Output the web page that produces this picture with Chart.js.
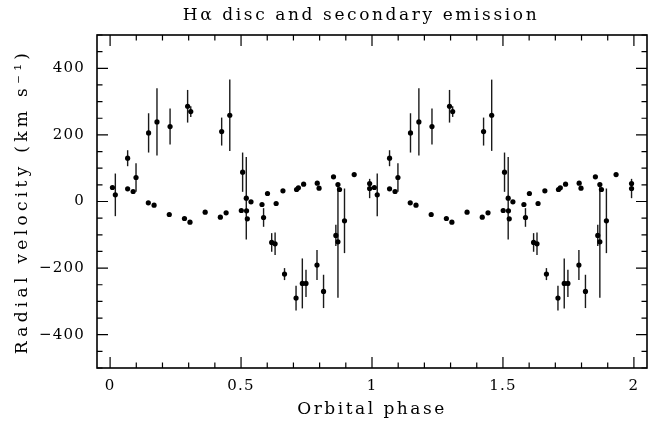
<!DOCTYPE html>
<html>
<head>
<meta charset="utf-8">
<script src="https://cdn.jsdelivr.net/npm/chart.js@4"></script>
<style>
  html, body { margin: 0; padding: 0; background: #fff; }
  #wrap { width: 648px; height: 423px; }
</style>
</head>
<body>
<div id="wrap"><canvas id="c" width="648" height="423"></canvas></div>
<script>
// ---- Data (one orbital cycle; plotted twice, at phase and phase + 1) ----
const discPhase = [0.009,0.067,0.088,0.146,0.168,0.226,0.284,0.305,0.363,0.421,0.443,0.501,0.521,0.524,0.538,0.580,0.601,0.634,0.660,0.712,0.719,0.739,0.791,0.798,0.853,0.870,0.876,0.932,0.991];
const discVel   = [42,38,30,-4,-11,-39,-51,-62,-32,-47,-34,-27,-28,-52,-1,-9,24,-6,32,36,41,52,55,40,74,51,36,81,54];

const secPhase = [0.020,0.067,0.099,0.147,0.179,0.229,0.296,0.308,0.426,0.457,0.506,0.520,0.586,0.617,0.630,0.666,0.710,0.734,0.748,0.790,0.815,0.862,0.870,0.895,0.991];
const secVel   = [20,130,72,206,239,225,286,270,210,259,88,10,-48,-123,-127,-218,-290,-246,-246,-191,-270,-102,-121,-58,39];
const secErr   = [64,24,43,59,101,54,49,16,42,107,59,124,28,28,34,18,37,75,41,45,50,32,168,97,29];

const xTickValues = [0, 0.5, 1, 1.5, 2];
const xTickLabels = ['0', '0.5', '1', '1.5', '2'];
const yTickValues = [-400, -200, 0, 200, 400];
const yTickLabels = ['\u2212400', '\u2212200', '0', '200', '400'];

const cycles = [0, 1];

function buildPoints(ph, vel, err) {
  const pts = [];
  cycles.forEach(c => ph.forEach((p, i) => {
    const o = { x: p + c, y: vel[i] };
    if (err) o.e = err[i];
    pts.push(o);
  }));
  return pts;
}

const FONT = "'DejaVu Serif', serif";
const TITLE_SPACING = '2.6px';
const TICK_SPACING = '1.2px';

function wrapScale(scale, titleSpacing) {
  if (scale._spacingWrapped) return;
  scale._spacingWrapped = true;
  const origTitle = scale.drawTitle.bind(scale);
  const origLabels = scale.drawLabels.bind(scale);
  scale.drawTitle = function () {
    const prev = scale.ctx.letterSpacing;
    scale.ctx.letterSpacing = titleSpacing;
    origTitle();
    scale.ctx.letterSpacing = prev;
  };
  scale.drawLabels = function (a) {
    const prev = scale.ctx.letterSpacing;
    scale.ctx.letterSpacing = TICK_SPACING;
    origLabels(a);
    scale.ctx.letterSpacing = prev;
  };
}

const spacing = {
  id: 'spacing',
  afterLayout(chart) {
    const t = chart.titleBlock;
    if (t) { t.right = t.right - 22; }
  },
  beforeDraw(chart) { chart.ctx.letterSpacing = TITLE_SPACING; },
  afterDraw(chart) { chart.ctx.letterSpacing = '0px'; }
};

const errorBars = {
  id: 'errorBars',
  beforeDatasetsDraw(chart) {
    const { ctx, chartArea, scales } = chart;
    ctx.save();
    ctx.beginPath();
    ctx.rect(chartArea.left, chartArea.top, chartArea.right - chartArea.left, chartArea.bottom - chartArea.top);
    ctx.clip();
    ctx.strokeStyle = '#1a1a1a';
    ctx.lineWidth = 1.4;
    chart.data.datasets.forEach(ds => {
      ds.data.forEach(pt => {
        if (pt.e === undefined) return;
        const x = scales.x.getPixelForValue(pt.x);
        ctx.beginPath();
        ctx.moveTo(x, scales.y.getPixelForValue(pt.y - pt.e));
        ctx.lineTo(x, scales.y.getPixelForValue(pt.y + pt.e));
        ctx.stroke();
      });
    });
    ctx.restore();
  }
};

const frameTicks = {
  id: 'frameTicks',
  afterDraw(chart) {
    const { ctx, chartArea: a, scales } = chart;
    ctx.save();
    ctx.strokeStyle = '#000';
    ctx.lineWidth = 1.2;
    const majL = 11, minL = 5.5;
    for (let k = 0; k <= 20; k++) {
      const v = k / 10;
      const x = scales.x.getPixelForValue(v);
      const L = (k % 5 === 0) ? majL : minL;
      ctx.beginPath();
      ctx.moveTo(x, a.bottom); ctx.lineTo(x, a.bottom - L);
      ctx.moveTo(x, a.top); ctx.lineTo(x, a.top + L);
      ctx.stroke();
    }
    for (let v = -500; v <= 500; v += 50) {
      const y = scales.y.getPixelForValue(v);
      const L = (v % 200 === 0) ? majL : minL;
      ctx.beginPath();
      ctx.moveTo(a.left, y); ctx.lineTo(a.left + L, y);
      ctx.moveTo(a.right, y); ctx.lineTo(a.right - L, y);
      ctx.stroke();
    }
    ctx.lineWidth = 1.6;
    ctx.strokeRect(a.left, a.top, a.right - a.left, a.bottom - a.top);
    ctx.restore();
  }
};

new Chart(document.getElementById('c'), {
  type: 'scatter',
  data: {
    datasets: [
      {
        label: 'Disc',
        data: buildPoints(discPhase, discVel, null),
        backgroundColor: '#000',
        borderColor: '#000',
        pointRadius: 2.6,
        pointBorderWidth: 0,
        showLine: false
      },
      {
        label: 'Secondary',
        data: buildPoints(secPhase, secVel, secErr),
        backgroundColor: '#000',
        borderColor: '#000',
        pointRadius: 2.6,
        pointBorderWidth: 0,
        showLine: false
      }
    ]
  },
  options: {
    responsive: false,
    animation: false,
    devicePixelRatio: 1,
    layout: { autoPadding: false, padding: { left: 0, right: 1, top: 0, bottom: 0 } },
    plugins: {
      legend: { display: false },
      tooltip: { enabled: false },
      title: {
        display: true,
        fullSize: false,
        text: 'H\u03B1 disc and secondary emission',
        color: '#000',
        font: { family: FONT, size: 17, weight: 'normal' },
        padding: { top: 5, bottom: 9.6 }
      }
    },
    scales: {
      x: {
        type: 'linear',
        min: -0.05,
        max: 2.05,
        grid: { display: false, drawTicks: false },
        border: { display: false },
        afterBuildTicks(scale) { scale.ticks = xTickValues.map(v => ({ value: v })); },
        afterFit(scale) {
          scale.height = 55;
          scale.paddingLeft = 0; scale.paddingRight = 0;
          wrapScale(scale, '2.5px');
        },
        ticks: {
          color: '#000',
          padding: 9,
          maxRotation: 0,
          font: { family: FONT, size: 15 },
          callback(value) { const i = xTickValues.indexOf(value); return i >= 0 ? xTickLabels[i] : ''; }
        },
        title: {
          display: true,
          text: 'Orbital phase',
          color: '#000',
          font: { family: FONT, size: 17 },
          padding: { top: 0, bottom: 3 }
        }
      },
      y: {
        type: 'linear',
        min: -500,
        max: 500,
        grid: { display: false, drawTicks: false },
        border: { display: false },
        afterBuildTicks(scale) { scale.ticks = yTickValues.map(v => ({ value: v })); },
        afterFit(scale) {
          scale.width = 97;
          scale.paddingTop = 0; scale.paddingBottom = 0;
          wrapScale(scale, '4.3px');
        },
        ticks: {
          color: '#000',
          padding: 12,
          font: { family: FONT, size: 15 },
          callback(value) { const i = yTickValues.indexOf(value); return i >= 0 ? yTickLabels[i] : ''; }
        },
        title: {
          display: true,
          text: 'Radial velocity (km s\u207B\u00B9)',
          color: '#000',
          font: { family: FONT, size: 17 },
          padding: { top: 12, bottom: 0 }
        }
      }
    }
  },
  plugins: [spacing, errorBars, frameTicks]
});
</script>
</body>
</html>
